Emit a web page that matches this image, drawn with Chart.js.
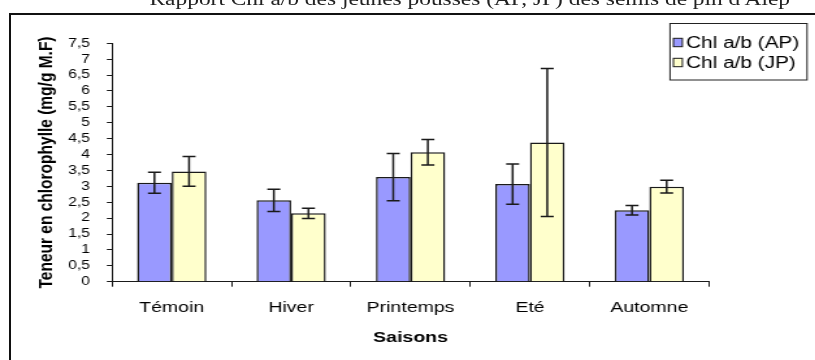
<!DOCTYPE html>
<html lang="fr">
<head>
<meta charset="utf-8">
<title>Chl a/b des jeunes pousses</title>
<script src="https://cdn.jsdelivr.net/npm/chart.js@4.4.1/dist/chart.umd.min.js"></script>
<style>
  html, body { margin: 0; padding: 0; background: #fff; }
  body { width: 815px; height: 360px; overflow: hidden; position: relative; }
  #frame {
    position: absolute; left: 9px; top: 13px; width: 900px; height: 400px;
    border-left: 2px solid #111; border-top: 2px solid #111; box-sizing: border-box;
  }
  /* the whole figure is drawn on a narrower stage, then widened */
  #stage {
    position: absolute; left: 0; top: 0; width: 627px; height: 360px;
    transform: scaleX(1.3); transform-origin: 0 0;
  }
  #caption {
    position: absolute; left: 115px; top: -10.5px; white-space: nowrap;
    font: 18px/18px "Liberation Serif", "Times New Roman", serif; color: #222;
  }
  #chart { position: absolute; left: 0; top: 0; }
</style>
</head>
<body>
<div id="frame"></div>
<div id="stage">
  <div id="caption">Rapport Chl a/b des jeunes pousses (AP, JP) des semis de pin d'Alep</div>
  <canvas id="chart" width="627" height="360"></canvas>
</div>
<script>
// Seasons and measured chlorophyll a/b values (mg/g M.F), with error ranges
const categories = ['Témoin', 'Hiver', 'Printemps', 'Eté', 'Automne'];
const seriesNames = ['Chl a/b (AP)', 'Chl a/b (JP)'];
const apValues = [3.11, 2.56, 3.29, 3.07, 2.25];
const apErrors = [0.33, 0.35, 0.74, 0.63, 0.15];
const jpValues = [3.47, 2.15, 4.07, 4.38, 2.99];
const jpErrors = [0.47, 0.16, 0.40, 2.33, 0.20];
const yTickLabels = ['0', '0,5', '1', '1,5', '2', '2,5', '3', '3,5', '4', '4,5', '5', '5,5', '6', '6,5', '7', '7,5'];

const FONT = '"Liberation Sans", Arial, sans-serif';
const INK = '#1a1a1a';

// Vertical error bars with caps, drawn from each bar's own scale position
const errorBars = {
  id: 'errorBars',
  afterDatasetsDraw(chart) {
    const ctx = chart.ctx;
    const y = chart.scales.y;
    ctx.save();
    ctx.strokeStyle = INK;
    ctx.lineWidth = 1.5;
    chart.data.datasets.forEach((ds, i) => {
      const meta = chart.getDatasetMeta(i);
      meta.data.forEach((bar, j) => {
        const v = ds.data[j], e = ds.errors[j];
        const yTop = y.getPixelForValue(v + e);
        const yBot = y.getPixelForValue(v - e);
        const half = 5;
        ctx.beginPath();
        ctx.moveTo(bar.x, yTop); ctx.lineTo(bar.x, yBot);
        ctx.moveTo(bar.x - half, yTop); ctx.lineTo(bar.x + half, yTop);
        ctx.moveTo(bar.x - half, yBot); ctx.lineTo(bar.x + half, yBot);
        ctx.stroke();
      });
    });
    ctx.restore();
  }
};

// Boxed legend in the upper right corner
const boxedLegend = {
  id: 'boxedLegend',
  afterDraw(chart) {
    const ctx = chart.ctx;
    const box = { x: 515.4, y: 23.5, w: 105.4, h: 56.5 };
    ctx.save();
    ctx.fillStyle = '#fff';
    ctx.fillRect(box.x, box.y, box.w, box.h);
    ctx.strokeStyle = '#222';
    ctx.lineWidth = 1;
    ctx.strokeRect(box.x, box.y, box.w, box.h);
    ctx.font = '16px ' + FONT;
    ctx.textBaseline = 'middle';
    ctx.textAlign = 'left';
    chart.data.datasets.forEach((ds, i) => {
      const cy = 42.5 + i * 20;
      ctx.fillStyle = ds.backgroundColor;
      ctx.fillRect(518, cy - 4.2, 6.9, 8.4);
      ctx.strokeStyle = INK;
      ctx.lineWidth = 1;
      ctx.strokeRect(518, cy - 4.2, 6.9, 8.4);
      ctx.fillStyle = '#000';
      ctx.fillText(ds.label, 527.7, cy + 1);
    });
    ctx.restore();
  }
};

new Chart(document.getElementById('chart'), {
  type: 'bar',
  data: {
    labels: categories,
    datasets: [
      { label: seriesNames[0], data: apValues, errors: apErrors,
        backgroundColor: '#9999FF', borderColor: INK, borderWidth: 1.5 },
      { label: seriesNames[1], data: jpValues, errors: jpErrors,
        backgroundColor: '#FFFFCC', borderColor: INK, borderWidth: 1.5 }
    ]
  },
  options: {
    responsive: false,
    animation: false,
    devicePixelRatio: 1,
    layout: { padding: { top: 43.3, right: 81.6, bottom: 0, left: 0 } },
    datasets: { bar: { categoryPercentage: 0.58, barPercentage: 1 } },
    plugins: { legend: { display: false }, tooltip: { enabled: false } },
    scales: {
      x: {
        afterFit(scale) { scale.height = 78.3; },
        grid: { drawOnChartArea: false, drawTicks: true, tickLength: 5, color: INK, offset: true },
        border: { color: INK, width: 1 },
        ticks: { color: '#000', padding: 12, font: { family: FONT, size: 15 }, maxRotation: 0 },
        title: { display: true, text: 'Saisons', color: '#000',
                 font: { family: FONT, size: 15, weight: 'bold' }, padding: { top: 4, bottom: 13 } }
      },
      y: {
        min: 0, max: 7.5,
        afterFit(scale) { scale.width = 86.2; },
        grid: { drawOnChartArea: false, drawTicks: true, tickLength: 4, color: INK },
        border: { color: INK, width: 1 },
        ticks: {
          stepSize: 0.5, autoSkip: false, color: '#000', padding: 13,
          font: { family: FONT, size: 12, lineHeight: 1 },
          callback(value, index) { return yTickLabels[index]; }
        },
        title: { display: true, text: 'Teneur en chlorophylle (mg/g M.F)', color: '#000',
                 font: { family: FONT, size: 15.5, weight: 'bold' }, padding: { top: 26.9, bottom: 0 } }
      }
    }
  },
  plugins: [errorBars, boxedLegend]
});
</script>
</body>
</html>
